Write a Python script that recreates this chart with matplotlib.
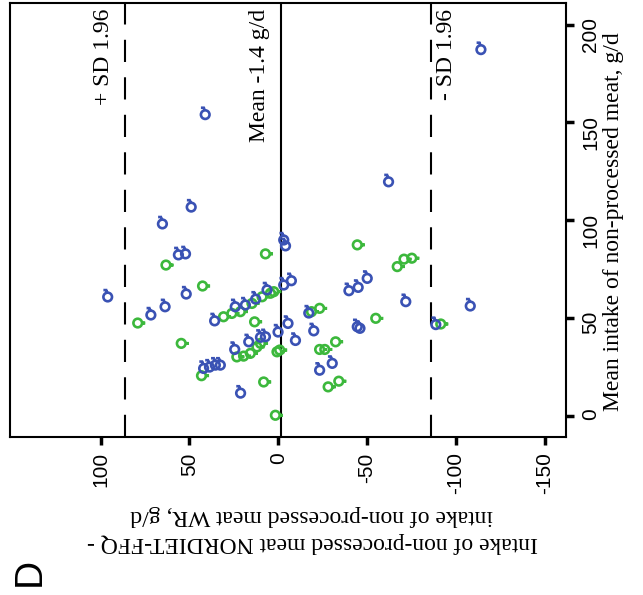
import matplotlib
matplotlib.use("Agg")
import matplotlib.pyplot as plt
import numpy as np
from matplotlib.path import Path

# Bland-Altman data (difference FFQ - WR, mean intake)
men_diff = [-114.1, 41.1, -62.1, 49.0, 65.2, 56.2, 52.2, -3.1, -4.1, 96.0,
            51.8, 63.7, 71.7, 35.8, -5.5, -9.7, 0.1, -3.1, -7.4, -39.8,
            -45.0, -50.1, -71.8, -108.1, -20.0, -17.2, -44.5, -46.0, -88.7, -23.3,
            -30.4, 42.0, 38.7, 35.4, 32.6, 21.2, 24.2, 18.5, 6.3, 12.7,
            24.5, 16.6, 10.0, 7.2]
men_mean = [187.2, 154.0, 119.7, 106.8, 98.2, 82.4, 82.9, 90.0, 87.0, 60.9,
            62.4, 55.9, 51.7, 48.7, 47.4, 38.7, 43.0, 67.0, 69.2, 64.1,
            65.8, 70.4, 58.5, 56.3, 43.6, 52.7, 45.7, 44.9, 46.8, 23.5,
            27.0, 24.4, 25.1, 26.1, 26.1, 11.8, 55.9, 56.8, 64.5, 59.8,
            34.1, 38.0, 40.3, 40.6]

women_diff = [63.2, 42.6, 79.1, 54.6, 43.2, 7.2, 13.3, 8.2, 1.6, -44.5,
              -67.0, -70.8, -75.2, -18.7, -23.3, -54.9, -91.5, -23.3, -26.2, -32.3,
              -28.1, -34.1, 30.8, 26.1, 21.3, 14.8, 9.1, 4.4, 2.5, 23.3,
              19.5, 15.7, 12.0, 10.0, 0.7, -0.8]
women_mean = [77.2, 66.5, 47.6, 37.2, 20.7, 82.9, 48.2, 17.5, 0.5, 87.5,
              76.4, 80.2, 80.7, 53.4, 55.1, 50.0, 47.1, 34.1, 34.1, 38.0,
              15.0, 17.9, 50.8, 52.5, 53.4, 57.6, 61.0, 62.8, 63.6, 30.3,
              30.7, 32.1, 35.4, 37.2, 32.9, 33.8]

mean_diff = -1.4
upper_loa = 86.1
lower_loa = -85.9

blue = "#3a52b4"
green = "#3cb83c"


def sex_marker(extra):
    # ring of radius 1 plus short strokes (the sex symbol turned on its side)
    circ = Path.unit_circle()
    verts = list(circ.vertices)
    codes = list(circ.codes)
    for seg in extra:
        verts += seg
        codes += [Path.MOVETO] + [Path.LINETO] * (len(seg) - 1)
    return Path(np.array(verts), codes)


male = sex_marker([[(-0.15, 1.0), (-0.3, 1.6)], [(-1.0, 1.6), (-0.1, 1.6)]])
female = sex_marker([[(1.0, 0.0), (1.7, 0.0)], [(1.45, -0.35), (1.45, 0.35)]])

ring_r = 3.1  # ring radius in points
s_male = (2 * ring_r * np.abs(male.vertices).max()) ** 2
s_female = (2 * ring_r * np.abs(female.vertices).max()) ** 2

plt.rcParams["lines.scale_dashes"] = False
plt.rcParams["axes.unicode_minus"] = False

fig = plt.figure(figsize=(6.43, 5.95), dpi=100)
ax = fig.add_axes([10 / 643, 1 - 437 / 595, 556 / 643, 434 / 595])

ax.scatter(women_diff, women_mean, marker=female, s=s_female, facecolors="none",
           edgecolors=green, linewidths=1.9, zorder=3)
ax.scatter(men_diff, men_mean, marker=male, s=s_male, facecolors="none",
           edgecolors=blue, linewidths=1.9, zorder=3)

ax.axvline(mean_diff, color="black", lw=1.5, zorder=2)
ax.axvline(upper_loa, color="black", lw=1.5, dashes=(16, 11), zorder=2)
ax.axvline(lower_loa, color="black", lw=1.5, dashes=(16, 11), zorder=2)

serif = "Liberation Serif"
ax.text(98.5, 208, "+ SD 1.96", rotation=90, ha="center", va="top", family=serif, fontsize=17)
ax.text(10.5, 208, "Mean -1.4 g/d", rotation=90, ha="center", va="top", family=serif, fontsize=17)
ax.text(-95, 208, "- SD 1.96", rotation=90, ha="center", va="top", family=serif, fontsize=17)

ax.set_xlim(151, -162)
ax.set_ylim(-10.6, 211)
ax.set_xticks([100, 50, 0, -50, -100, -150])
ax.set_yticks([0, 50, 100, 150, 200])
ax.yaxis.tick_right()
ax.tick_params(axis="both", direction="out", length=6, width=2.5, labelsize=15,
               labelrotation=90, pad=5)
for lab in ax.get_xticklabels() + ax.get_yticklabels():
    lab.set_family("Liberation Sans")
for sp in ax.spines.values():
    sp.set_linewidth(1.5)

fig.text(613 / 643, 1 - 222 / 595, "Mean intake of non-processed meat, g/d", rotation=90,
         ha="center", va="center", family=serif, fontsize=17)
fig.text(312 / 643, 1 - 529 / 595,
         "Intake of non-processed meat NORDIET-FFQ -\nintake of non-processed meat WR, g/d",
         rotation=180, ha="center", va="center", multialignment="center", family=serif,
         fontsize=17, linespacing=1.4)
fig.text(30 / 643, 1 - 572 / 595, "D", rotation=90, ha="center", va="center",
         family="Liberation Sans", fontsize=28)

fig.savefig("out.png", dpi=100)
